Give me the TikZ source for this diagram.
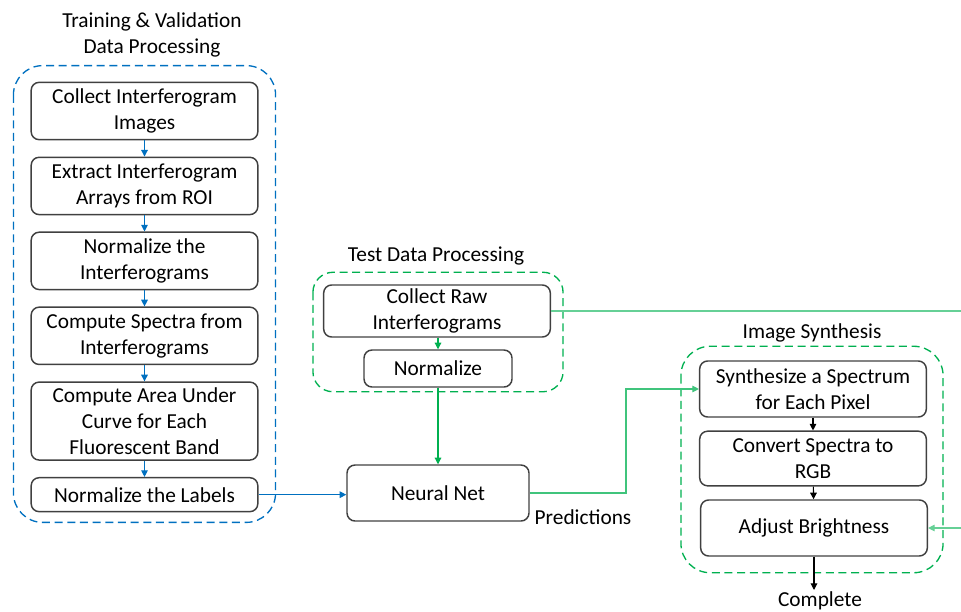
\documentclass[tikz,border=0pt]{standalone}
\usepackage{fontspec}
\setmainfont{Carlito}
\usetikzlibrary{positioning,calc,arrows.meta}
\definecolor{flowblue}{RGB}{0,112,192}
\definecolor{flowgreen}{RGB}{0,176,80}

\begin{document}
\begin{tikzpicture}[x=0.75pt, y=-0.75pt,
				font=\fontsize{16}{19.5}\selectfont,
				block/.style={rectangle, rounded corners=6pt, draw=black!75, line width=1.1pt, align=center, minimum width=170pt, minimum height=43pt, inner sep=2pt},
				group/.style={dash pattern=on 6pt off 3.5pt, line width=1pt, rounded corners=22pt},
				heading/.style={rectangle, align=center, inner sep=1pt},
				tip/.style={line width=0.8pt, -{Triangle[length=5pt,width=5pt]}},
				node distance=12.1pt
			]
			\useasboundingbox (0,0) rectangle (961,611);
			% training and validation
			\node[block] (collect) at (144.5,111) {Collect Interferogram\\Images};
			\node[block] (extract) [below=of collect] {Extract Interferogram\\Arrays from ROI};
			\node[block] (normint) [below=of extract] {Normalize the\\Interferograms};
			\node[block] (spectra) [below=of normint] {Compute Spectra from\\Interferograms};
			\node[block, minimum height=58.5pt] (area) [below=of spectra] {Compute Area Under\\Curve for Each\\Fluorescent Band};
			\node[block, minimum height=25.5pt] (labels) [below=of area] {Normalize the Labels};
			\node[heading] (traintitle) at (152,35) {Training \& Validation\\Data Processing};
			% test data
			\node[block, minimum height=39pt] (raw) at (437,311) {Collect Raw\\Interferograms};
			\node[block, minimum width=111pt, minimum height=27.75pt] (normtest) at (438,368.5) {Normalize};
			\node[heading] (testtitle) at (436,256) {Test Data Processing};
			\node[block, minimum width=136.5pt, minimum height=42pt] (net) at (438,493) {Neural Net};
			\node[heading] (pred) at (583,517) {Predictions};
			% image synthesis
			\node[block, minimum height=42pt] (synth) at (813,389) {Synthesize a Spectrum\\for Each Pixel};
			\node[block, minimum height=41pt] (rgb) at (813,458.5) {Convert Spectra to\\RGB};
			\node[block, minimum height=42pt] (bright) at (814,528) {Adjust Brightness};
			\node[heading] (synthtitle) at (812,333) {Image Synthesis};
			\node[heading, anchor=north] (complete) at (820,590) {Complete};
			\coordinate (bend) at (626,440);
			\coordinate (offright) at (975,420);
			% groups
			\draw[group, flowblue] ($(collect.north west)+(-17,-16)$) rectangle ($(labels.south east)+(17,10)$);
			\draw[group, flowgreen, rounded corners=15pt] ($(raw.north west)+(-10,-12)$) rectangle ($(raw.east |- normtest.south)+(12,4)$);
			\draw[group, flowgreen] ($(synth.north west)+(-18,-14)$) rectangle ($(bright.south east)+(15,16)$);
			% arrows
			\begin{scope}[tip, flowblue]
			\draw (collect) -- (extract);
			\draw (extract) -- (normint);
			\draw (normint) -- (spectra);
			\draw (spectra) -- (area);
			\draw (area) -- (labels);
			\draw (labels.east) -- (labels.east -| net.west);
			\end{scope}
			\begin{scope}[tip, flowgreen]
			\draw (raw.south -| normtest.north) -- (normtest.north);
			\draw (normtest) -- (net);
			\draw[flowgreen!75] (net.east) -| (bend) |- (synth.west);
			\draw[flowgreen!60] (raw.east) -| (offright) |- (bright.east);
			\end{scope}
			\begin{scope}[tip, black]
			\draw (synth) -- (rgb);
			\draw (rgb) -- (bright);
			\draw (bright.south) -- (bright.south |- complete.north);
			\end{scope}
			\end{tikzpicture}
\end{document}
